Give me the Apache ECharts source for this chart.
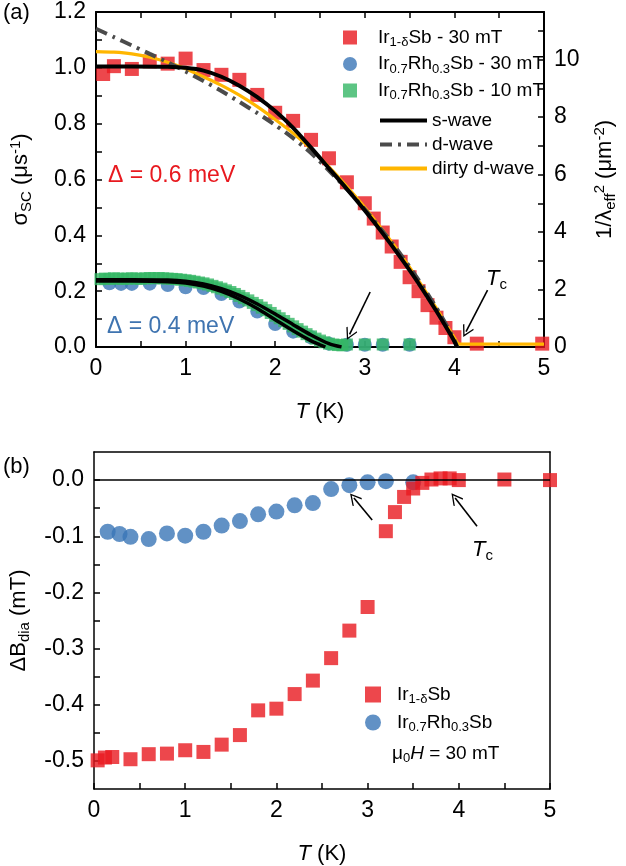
<!DOCTYPE html>
<html><head><meta charset="utf-8">
<script src="https://cdn.jsdelivr.net/npm/echarts@6/dist/echarts.min.js"></script>
<style>html,body{margin:0;padding:0;background:#fff}#c{width:626px;height:866px}</style>
</head><body><div id="c"></div><script>
// ---------- DATA (panel a) ----------
const T_IR_A = [0.08, 0.2, 0.4, 0.6, 0.8, 1.0, 1.2, 1.4, 1.6, 1.8, 2.0, 2.2, 2.4, 2.6, 2.8, 3.0, 3.1, 3.2, 3.3, 3.4, 3.5, 3.6, 3.7, 3.8, 3.9, 4.0, 4.25, 4.98];
const S_IR_A = [0.978, 1.006, 0.996, 1.023, 1.015, 1.033, 0.992, 0.975, 0.957, 0.903, 0.839, 0.81, 0.742, 0.676, 0.59, 0.515, 0.46, 0.41, 0.36, 0.305, 0.25, 0.2, 0.15, 0.105, 0.068, 0.035, 0.012, 0.012];

const T_RH30_A = [0.15, 0.28, 0.4, 0.6, 0.8, 1.0, 1.2, 1.4, 1.6, 1.8, 2.0, 2.2, 2.4, 2.6, 2.8, 3.0, 3.2, 3.5];
const S_RH30_A = [0.228, 0.226, 0.226, 0.227, 0.222, 0.214, 0.211, 0.19, 0.163, 0.127, 0.082, 0.055, 0.035, 0.012, 0.008, 0.008, 0.008, 0.008];

const T_RH10_A = [0.05, 0.10, 0.15, 0.20, 0.25, 0.30, 0.35, 0.40, 0.45, 0.50, 0.55, 0.60, 0.65, 0.70, 0.75, 0.80, 0.85, 0.90, 0.95, 1.00,
  1.05, 1.10, 1.15, 1.20, 1.25, 1.30, 1.35, 1.40, 1.45, 1.50, 1.55, 1.60, 1.65, 1.70, 1.75, 1.80, 1.85, 1.90, 1.95, 2.00,
  2.05, 2.10, 2.15, 2.20, 2.25, 2.30, 2.35, 2.40, 2.45, 2.50, 2.55, 2.60, 2.65, 2.70, 2.75, 2.8, 3.0, 3.2, 3.5];
const S_RH10_A = [0.243, 0.245, 0.244, 0.246, 0.245, 0.244, 0.245, 0.246, 0.245, 0.244, 0.246, 0.247, 0.246, 0.247, 0.246, 0.245, 0.244, 0.243, 0.241, 0.239,
  0.237, 0.234, 0.231, 0.228, 0.224, 0.219, 0.214, 0.209, 0.203, 0.197, 0.190, 0.183, 0.175, 0.167, 0.158, 0.150, 0.141, 0.132, 0.122, 0.112,
  0.103, 0.093, 0.083, 0.074, 0.064, 0.055, 0.046, 0.038, 0.030, 0.023, 0.017, 0.012, 0.009, 0.007, 0.006, 0.009, 0.009, 0.009, 0.009];

// fit curves
const T_SW_IR = [0, 0.4, 0.8, 1.0, 1.2, 1.4, 1.6, 1.8, 2.0, 2.2, 2.4, 2.6, 2.8, 3.0, 3.2, 3.4, 3.6, 3.8, 3.9, 4.0, 4.03];
const S_SW_IR = [1.005, 1.005, 1.004, 1.0, 0.99, 0.968, 0.936, 0.895, 0.845, 0.785, 0.714, 0.64, 0.566, 0.489, 0.407, 0.32, 0.228, 0.128, 0.075, 0.02, 0];
const T_DW = [0, 0.2, 0.4, 0.6, 0.8, 1.0, 1.2, 1.4, 1.6, 1.8, 2.0, 2.2, 2.4, 2.6, 2.8, 3.0, 3.2, 3.4, 3.6, 3.8, 3.9, 4.0, 4.03];
const S_DW = [1.14, 1.11, 1.08, 1.05, 1.02, 0.987, 0.953, 0.917, 0.878, 0.838, 0.795, 0.748, 0.695, 0.632, 0.565, 0.493, 0.415, 0.332, 0.24, 0.14, 0.085, 0.025, 0];
const T_DD = [0, 0.2, 0.4, 0.6, 0.8, 1.0, 1.2, 1.4, 1.6, 1.8, 2.0, 2.2, 2.4, 2.6, 2.8, 3.0, 3.2, 3.4, 3.6, 3.8, 3.9, 4.0, 4.06, 4.3, 5.0];
const S_DD = [1.058, 1.056, 1.05, 1.038, 1.02, 0.997, 0.968, 0.937, 0.902, 0.861, 0.815, 0.766, 0.71, 0.645, 0.575, 0.5, 0.418, 0.332, 0.238, 0.138, 0.085, 0.033, 0.01, 0.01, 0.01];
const T_SW_RH30 = [0, 0.4, 0.8, 1.0, 1.2, 1.4, 1.6, 1.8, 2.0, 2.2, 2.4, 2.5, 2.56];
const S_SW_RH30 = [0.236, 0.236, 0.234, 0.229, 0.218, 0.199, 0.172, 0.138, 0.098, 0.058, 0.022, 0.008, 0];
const T_SW_RH10 = [0, 0.4, 0.8, 1.0, 1.2, 1.4, 1.6, 1.8, 2.0, 2.2, 2.4, 2.6, 2.74];
const S_SW_RH10 = [0.241, 0.241, 0.24, 0.236, 0.226, 0.209, 0.185, 0.154, 0.118, 0.08, 0.043, 0.012, 0];

// ---------- DATA (panel b) ----------
const T_IR_B = [0.04, 0.12, 0.2, 0.4, 0.6, 0.8, 1.0, 1.2, 1.4, 1.6, 1.8, 2.0, 2.2, 2.4, 2.6, 2.8, 3.0, 3.2, 3.3, 3.4, 3.5, 3.6, 3.7, 3.8, 3.9, 4.0, 4.5, 5.0];
const B_IR_B = [-0.499, -0.494, -0.493, -0.497, -0.488, -0.487, -0.481, -0.484, -0.471, -0.454, -0.41, -0.407, -0.381, -0.357, -0.317, -0.268, -0.226, -0.091, -0.057, -0.03, -0.015, -0.005, 0.001, 0.003, 0.003, 0.0, 0.001, 0.0];
const T_RH_B = [0.15, 0.28, 0.4, 0.6, 0.8, 1.0, 1.2, 1.4, 1.6, 1.8, 2.0, 2.2, 2.4, 2.6, 2.8, 3.0, 3.2, 3.5];
const B_RH_B = [-0.092, -0.096, -0.101, -0.105, -0.095, -0.099, -0.092, -0.081, -0.073, -0.061, -0.056, -0.045, -0.041, -0.016, -0.009, -0.004, -0.002, -0.004];

// ---------- ticks ----------
const X_LABELS = [0, 1, 2, 3, 4, 5];
const X_TICKS = [0, 0.5, 1, 1.5, 2, 2.5, 3, 3.5, 4, 4.5, 5];
const YA_LABELS = [0, 0.2, 0.4, 0.6, 0.8, 1.0, 1.2];
const YA_TICKS = [0, 0.1, 0.2, 0.3, 0.4, 0.5, 0.6, 0.7, 0.8, 0.9, 1.0, 1.1, 1.2];
const YR_LABELS = [0, 2, 4, 6, 8, 10];
const YR_TICKS = [0, 1, 2, 3, 4, 5, 6, 7, 8, 9, 10, 11];
const YB_LABELS = [0, -0.1, -0.2, -0.3, -0.4, -0.5];
const YB_TICKS = [0, -0.05, -0.1, -0.15, -0.2, -0.25, -0.3, -0.35, -0.4, -0.45, -0.5];

// ---------- styling ----------
const FONT = '"Liberation Sans", Arial, sans-serif';
const RED = '#e8191f', BLUE = '#3a76b6', GREEN = '#35b765', YELLOW = '#ffb600', GREY = '#4b4b4b';
const pairs = (xs, ys) => xs.map((x, i) => [x, ys[i]]);

function richSet(main, sub) {
  return {
    n: {fontSize: main, lineHeight: main + 4, fontFamily: FONT, color: '#000'},
    i: {fontSize: main, lineHeight: main + 4, fontFamily: FONT, fontStyle: 'italic', color: '#000'},
    s: {fontSize: sub, lineHeight: sub, verticalAlign: 'bottom', fontFamily: FONT, color: '#000'},
    p: {fontSize: sub, lineHeight: sub, verticalAlign: 'top', fontFamily: FONT, color: '#000'},
    sp1: {width: 16, fontSize: main, lineHeight: main + 4},
    sp2: {width: 11, fontSize: main, lineHeight: main + 4}
  };
}
const RICH_AX = richSet(22, 15);
const RICH_LG = richSet(19, 13);

const LEGEND_TXT = {
  'Ir1-δSb - 30 mT': '{sp1| }{n|Ir}{s|1-δ}{n|Sb - 30 mT}',
  'Ir0.7Rh0.3Sb - 30 mT': '{sp1| }{n|Ir}{s|0.7}{n|Rh}{s|0.3}{n|Sb - 30 mT}',
  'Ir0.7Rh0.3Sb - 10 mT': '{sp1| }{n|Ir}{s|0.7}{n|Rh}{s|0.3}{n|Sb - 10 mT}',
  's-wave': '{n|s-wave}', 'd-wave': '{n|d-wave}', 'dirty d-wave': '{n|dirty d-wave}',
  'Ir1-δSb': '{sp2| }{n|Ir}{s|1-δ}{n|Sb}',
  'Ir0.7Rh0.3Sb': '{sp2| }{n|Ir}{s|0.7}{n|Rh}{s|0.3}{n|Sb}'
};

const ARROW = 'path://M0,0 L10,13 L8.4,14.2 L0,3.2 L-8.4,14.2 L-10,13 Z';

function axisBase(extra) {
  return Object.assign({
    type: 'value',
    splitLine: {show: false},
    axisLine: {show: true, onZero: false, lineStyle: {color: '#000', width: 2}},
    axisTick: {show: true, inside: true, length: 6, lineStyle: {color: '#000', width: 1.5}},
    axisLabel: {show: false},
    nameTextStyle: {rich: RICH_AX}
  }, extra);
}
function labels(vals, fmt, margin) {
  return {show: true, customValues: vals, formatter: fmt, fontSize: 23, fontFamily: FONT, color: '#000', margin: margin};
}
function ticks(vals) {
  return {show: true, inside: true, length: 6, customValues: vals, lineStyle: {color: '#000', width: 1.5}};
}

const chart = echarts.init(document.getElementById('c'), null, {renderer: 'canvas'});
const option = {
  animation: false,
  backgroundColor: '#fff',
  grid: [
    {left: 92, top: 12, width: 458, height: 335},
    {left: 92, top: 452, width: 458, height: 338}
  ],
  xAxis: [
    axisBase({gridIndex: 0, position: 'bottom', min: 0, max: 5, axisTick: ticks(X_TICKS),
      axisLabel: labels(X_LABELS, v => String(v), 10),
      name: '{i|T}{n| (K)}', nameLocation: 'middle', nameGap: 52}),
    axisBase({gridIndex: 0, position: 'top', min: 0, max: 5, axisTick: ticks(X_TICKS)}),
    axisBase({gridIndex: 1, position: 'bottom', min: 0, max: 5, axisTick: ticks(X_TICKS),
      axisLine: {show: true, onZero: false, lineStyle: {color: '#000', width: 1.5}},
      axisLabel: labels(X_LABELS, v => String(v), 10),
      name: '{i|T}{n| (K)}', nameLocation: 'middle', nameGap: 52}),
    axisBase({gridIndex: 1, position: 'top', min: 0, max: 5, axisTick: {show: false},
      axisLine: {show: true, onZero: false, lineStyle: {color: '#000', width: 1.5}}})
  ],
  yAxis: [
    axisBase({gridIndex: 0, position: 'left', min: 0, max: 1.2, axisTick: ticks(YA_TICKS),
      axisLabel: labels(YA_LABELS, v => v.toFixed(1), 10),
      name: '{n|σ}{s|SC}{n| (μs}{p|-1}{n|)}', nameLocation: 'middle', nameGap: 62, nameRotate: 90}),
    axisBase({gridIndex: 0, position: 'right', min: 0, max: 11.66, axisTick: ticks(YR_TICKS),
      axisLabel: labels(YR_LABELS, v => String(v), 10),
      name: '{n|1/λ}{s|eff}{p|2}{n| (μm}{p|-2}{n|)}', nameLocation: 'middle', nameGap: 48, nameRotate: 90}),
    axisBase({gridIndex: 1, position: 'left', min: -0.55, max: 0.05, axisTick: ticks(YB_TICKS),
      axisLine: {show: true, onZero: false, lineStyle: {color: '#000', width: 1.5}},
      axisLabel: labels(YB_LABELS, v => v.toFixed(1), 10),
      name: '{n|ΔB}{s|dia}{n| (mT)}', nameLocation: 'middle', nameGap: 62, nameRotate: 90}),
    axisBase({gridIndex: 1, position: 'right', min: -0.55, max: 0.05, axisTick: {show: false},
      axisLine: {show: true, onZero: false, lineStyle: {color: '#000', width: 1.5}}})
  ],
  legend: [
    {left: 338, top: 23, orient: 'vertical', itemWidth: 14, itemHeight: 14, itemGap: 5.5,
      data: ['Ir1-δSb - 30 mT', 'Ir0.7Rh0.3Sb - 30 mT', 'Ir0.7Rh0.3Sb - 10 mT'],
      formatter: n => LEGEND_TXT[n], textStyle: {rich: RICH_LG, fontSize: 19}, selectedMode: false},
    {left: 373, top: 106, orient: 'vertical', itemWidth: 47, itemHeight: 14, itemGap: 5,
      data: ['s-wave', 'd-wave', 'dirty d-wave'], itemStyle: {opacity: 0}, lineStyle: {width: 4},
      formatter: n => LEGEND_TXT[n], textStyle: {rich: RICH_LG, fontSize: 19}, selectedMode: false},
    {left: 360, top: 680, orient: 'vertical', itemWidth: 16, itemHeight: 16, itemGap: 7,
      data: ['Ir1-δSb', 'Ir0.7Rh0.3Sb'],
      formatter: n => LEGEND_TXT[n], textStyle: {rich: RICH_LG, fontSize: 19}, selectedMode: false}
  ],
  graphic: [
    {type: 'text', left: 3, top: 2, style: {text: '(a)', font: '22px ' + FONT, fill: '#000'}},
    {type: 'text', left: 3, top: 456, style: {text: '(b)', font: '22px ' + FONT, fill: '#000'}},
    {type: 'text', x: 108, y: 176, style: {text: 'Δ = 0.6 meV', font: '23px ' + FONT, fill: RED, verticalAlign: 'middle'}},
    {type: 'text', x: 107, y: 327, style: {text: 'Δ = 0.4 meV', font: '23px ' + FONT, fill: '#3f74b0', verticalAlign: 'middle'}},
    {type: 'text', x: 486, y: 266, style: {text: '{i|T}{s|c}', rich: RICH_AX}},
    {type: 'text', x: 472, y: 537, style: {text: '{i|T}{s|c}', rich: RICH_AX}},
    {type: 'text', x: 392, y: 742, style: {text: '{n|μ}{s|0}{i|H}{n| = 30 mT}', rich: RICH_LG}}
  ],
  series: [
    {name: 'Ir1-δSb - 30 mT', type: 'scatter', xAxisIndex: 0, yAxisIndex: 0, symbol: 'rect', symbolSize: 14,
      itemStyle: {color: RED}, data: pairs(T_IR_A, S_IR_A)},
    {name: 'Ir0.7Rh0.3Sb - 30 mT', type: 'scatter', xAxisIndex: 0, yAxisIndex: 0, symbol: 'circle', symbolSize: 14,
      itemStyle: {color: BLUE}, data: pairs(T_RH30_A, S_RH30_A)},
    {name: 'Ir0.7Rh0.3Sb - 10 mT', type: 'scatter', xAxisIndex: 0, yAxisIndex: 0, symbol: 'rect', symbolSize: 12,
      itemStyle: {color: GREEN}, data: pairs(T_RH10_A, S_RH10_A)},
    {name: 'dirty d-wave', type: 'line', xAxisIndex: 0, yAxisIndex: 0, symbol: 'none', smooth: 0.25,
      lineStyle: {color: YELLOW, width: 3.2}, itemStyle: {color: YELLOW}, data: pairs(T_DD, S_DD)},
    {name: 'd-wave', type: 'line', xAxisIndex: 0, yAxisIndex: 0, symbol: 'none', smooth: 0.25,
      lineStyle: {color: GREY, width: 4, type: [12, 6, 3, 6]}, itemStyle: {color: GREY}, data: pairs(T_DW, S_DW)},
    {name: 's-wave', type: 'line', xAxisIndex: 0, yAxisIndex: 0, symbol: 'none', smooth: 0.25,
      lineStyle: {color: '#000', width: 4}, itemStyle: {color: '#000'}, data: pairs(T_SW_IR, S_SW_IR),
      markLine: {silent: true, symbol: ['none', ARROW], symbolSize: [12, 12], label: {show: false},
        lineStyle: {color: '#000', width: 1.6, type: 'solid'},
        data: [
          [{coord: [3.06, 0.197]}, {coord: [2.83, 0.045]}],
          [{coord: [4.37, 0.204]}, {coord: [4.13, 0.055]}]
        ]}},
    {name: 's-wave', type: 'line', xAxisIndex: 0, yAxisIndex: 0, symbol: 'none', smooth: 0.25,
      lineStyle: {color: '#000', width: 3.5}, itemStyle: {color: '#000'}, data: pairs(T_SW_RH30, S_SW_RH30)},
    {name: 's-wave', type: 'line', xAxisIndex: 0, yAxisIndex: 0, symbol: 'none', smooth: 0.25,
      lineStyle: {color: '#000', width: 3.5}, itemStyle: {color: '#000'}, data: pairs(T_SW_RH10, S_SW_RH10)},
    {name: 'Ir0.7Rh0.3Sb', type: 'scatter', xAxisIndex: 2, yAxisIndex: 2, symbol: 'circle', symbolSize: 16,
      itemStyle: {color: BLUE}, data: pairs(T_RH_B, B_RH_B),
      markLine: {silent: true, symbol: ['none', 'none'], label: {show: false},
        lineStyle: {color: '#000', width: 1.5, type: 'solid'}, data: [{yAxis: 0}]}},
    {name: 'Ir1-δSb', type: 'scatter', xAxisIndex: 2, yAxisIndex: 2, symbol: 'rect', symbolSize: 14,
      itemStyle: {color: RED}, data: pairs(T_IR_B, B_IR_B),
      markLine: {silent: true, symbol: ['none', ARROW], symbolSize: [12, 12], label: {show: false},
        lineStyle: {color: '#000', width: 1.6, type: 'solid'},
        data: [
          [{coord: [3.05, -0.071]}, {coord: [2.85, -0.032]}],
          [{coord: [4.2, -0.082]}, {coord: [3.96, -0.032]}]
        ]}}
  ]
};
chart.setOption(option);
</script></body></html>
